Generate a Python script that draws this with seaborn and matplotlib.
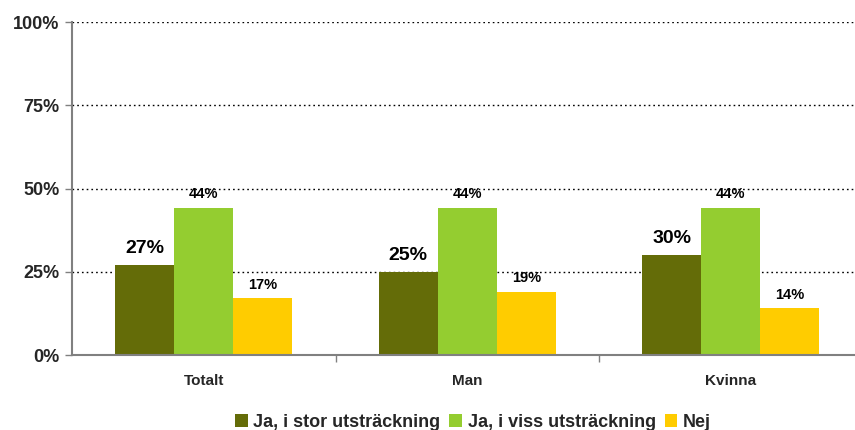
import pandas as pd
import seaborn as sns
import matplotlib.pyplot as plt
from matplotlib.ticker import FixedLocator

categories = ["Totalt", "Man", "Kvinna"]
series = ["Ja, i stor utsträckning", "Ja, i viss utsträckning", "Nej"]
stor = [27, 25, 30]
viss = [44, 44, 44]
nej = [17, 19, 14]
colors = ["#646C08", "#94CD30", "#FFCC00"]

df = pd.DataFrame({
    "kategori": categories * 3,
    "serie": [series[0]] * 3 + [series[1]] * 3 + [series[2]] * 3,
    "andel": stor + viss + nej,
})

sns.set_theme(style="white")
plt.rcParams["font.family"] = ["Liberation Sans", "DejaVu Sans"]
plt.rcParams["font.weight"] = "bold"

fig = plt.figure(figsize=(8.55, 4.3), dpi=100)
ax = fig.add_axes([72 / 855, 1 - 355 / 430, 790.5 / 855, 333 / 430])

sns.barplot(data=df, x="kategori", y="andel", hue="serie", order=categories,
            hue_order=series, palette=colors, width=0.672, gap=0,
            saturation=1, linewidth=0, ax=ax, legend=True)

# data labels
label_style = {0: dict(size=14, off=5.0), 1: dict(size=10.5, off=4.3), 2: dict(size=10.5, off=4.0)}
for i, cont in enumerate(ax.containers):
    st = label_style[i]
    for bar in cont:
        h = bar.get_height()
        ax.text(bar.get_x() + bar.get_width() / 2, h + st["off"], f"{h:.0f}%",
                ha="center", va="center", fontsize=st["size"], fontweight="bold",
                color="black")

ax.set_ylim(0, 100)
ax.set_xlim(-0.5, 2.5)
ax.set_yticks([0, 25, 50, 75, 100])
ax.set_yticklabels(["0%", "25%", "50%", "75%", "100%"], fontsize=13, fontweight="bold")
ax.set_xticklabels(categories, fontsize=11, fontweight="bold")
ax.set_xlabel("")
ax.set_ylabel("")

for y in [25, 50, 75, 100]:
    ax.axhline(y, color="black", linestyle=(0, (1.2, 2.2)), linewidth=1.0, zorder=0)

for s in ["top", "right"]:
    ax.spines[s].set_visible(False)
for s in ["left", "bottom"]:
    ax.spines[s].set_color("#808080")
    ax.spines[s].set_linewidth(1.5)

ax.tick_params(axis="y", which="major", left=True, length=5, color="#808080", width=1, pad=4)
ax.tick_params(axis="x", which="major", bottom=False, pad=8)
ax.xaxis.set_minor_locator(FixedLocator([0.5, 1.5]))
ax.tick_params(axis="x", which="minor", bottom=True, length=5, color="#808080", width=1)

handles, labels = ax.get_legend_handles_labels()
ax.legend(handles, labels, loc="lower center", bbox_to_anchor=(473 / 855, -0.018),
          bbox_transform=fig.transFigure, ncol=3, frameon=False,
          prop={"size": 13, "weight": "bold"}, handlelength=0.7, handleheight=0.7,
          handletextpad=0.3, columnspacing=0.5, borderaxespad=0.0)

fig.savefig("out.png", dpi=100)
